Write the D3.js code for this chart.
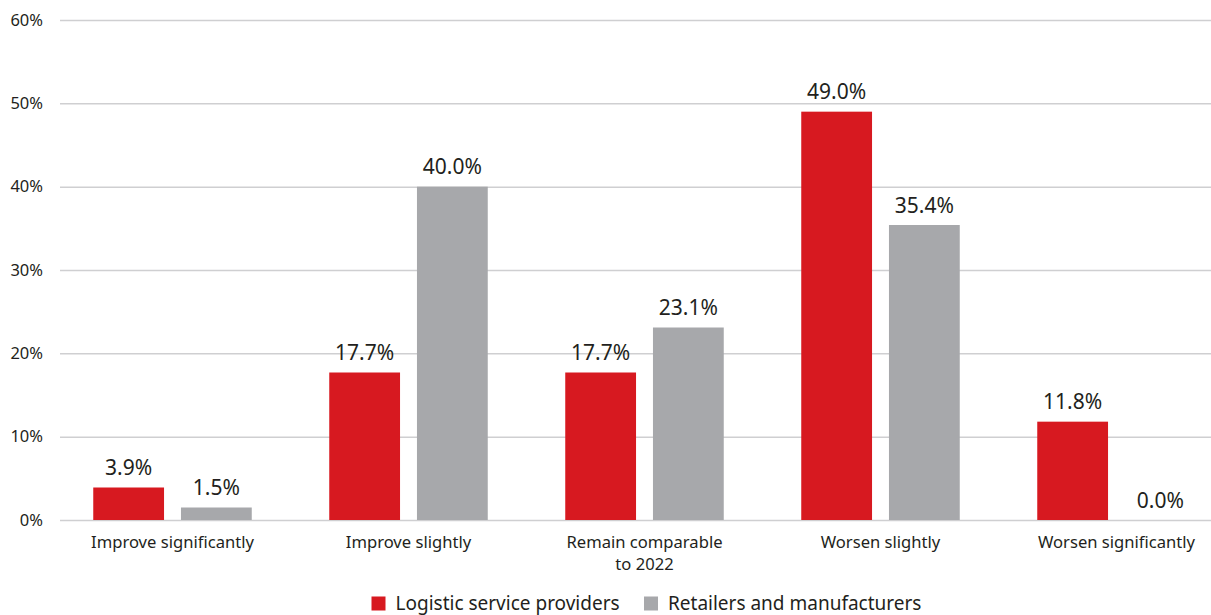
<!DOCTYPE html>
<html>
<head>
<meta charset="utf-8">
<script src="https://cdn.jsdelivr.net/npm/d3@7"></script>
<style>
  html, body { margin: 0; padding: 0; background: #fff; }
  svg { display: block; font-family: "Noto Sans", sans-serif; }
</style>
</head>
<body>
<svg id="chart" width="1211" height="615"></svg>
<script>
const categories = [
  ["Improve significantly"],
  ["Improve slightly"],
  ["Remain comparable", "to 2022"],
  ["Worsen slightly"],
  ["Worsen significantly"]
];
const seriesNames = ["Logistic service providers", "Retailers and manufacturers"];
const logisticValues = [3.9, 17.7, 17.7, 49.0, 11.8];
const retailValues = [1.5, 40.0, 23.1, 35.4, 0.0];
const yTicks = [0, 10, 20, 30, 40, 50, 60];
const colors = ["#d71920", "#a7a8ab"];

const svg = d3.select("#chart");
const catKeys = categories.map(c => c.join(" "));

const x0 = d3.scaleBand().domain(catKeys).range([54.5, 1234.5]).paddingInner(0).paddingOuter(0);
const x1 = d3.scaleBand().domain(seriesNames).range([38.75, 197.25]).paddingInner(0.193).paddingOuter(0);
const y = d3.scaleLinear().domain([0, 60]).range([520, 20]);

// gridlines
const yAxis = d3.axisLeft(y).tickValues(yTicks).tickFormat(d => d + "%").tickSize(-(1211 - 60)).tickPadding(17);
const gAxis = svg.append("g").attr("transform", "translate(60,0)").call(yAxis);
gAxis.select(".domain").remove();
gAxis.selectAll(".tick line").attr("stroke", "#cfcfd1").attr("stroke-width", 1.5);
gAxis.selectAll(".tick text").attr("fill", "#231f20").style("font-size", "16.5px").style("font-family", "'Noto Sans', sans-serif");

const data = catKeys.map((k, i) => ({ key: k, lines: categories[i], vals: [logisticValues[i], retailValues[i]] }));

const groups = svg.append("g").selectAll("g").data(data).join("g")
  .attr("transform", d => `translate(${x0(d.key)},0)`);

groups.selectAll("rect").data(d => d.vals.map((v, j) => ({ v, s: seriesNames[j], j })))
  .join("rect")
  .attr("x", d => x1(d.s))
  .attr("width", x1.bandwidth())
  .attr("y", d => y(d.v))
  .attr("height", d => y(0) - y(d.v))
  .attr("fill", d => colors[d.j]);

groups.selectAll("text.val").data(d => d.vals.map((v, j) => ({ v, s: seriesNames[j], j })))
  .join("text")
  .attr("class", "val")
  .attr("x", d => x1(d.s) + x1.bandwidth() / 2)
  .attr("y", d => y(d.v) - 12.5)
  .attr("text-anchor", "middle")
  .attr("fill", "#231f20")
  .style("font-size", "21px")
  .text(d => d.v.toFixed(1) + "%");

// category labels
groups.append("text")
  .attr("text-anchor", "middle")
  .attr("fill", "#231f20")
  .style("font-size", "16.6px")
  .attr("x", 118)
  .attr("y", 548)
  .selectAll("tspan").data(d => d.lines).join("tspan")
  .attr("x", 118)
  .attr("dy", (d, i) => i === 0 ? 0 : 21.5)
  .text(d => d);

// legend
const legend = svg.append("g");
const legendX = [371.5, 644];
seriesNames.forEach((name, i) => {
  legend.append("rect").attr("x", legendX[i]).attr("y", 596.5).attr("width", 14).attr("height", 14).attr("fill", colors[i]);
  legend.append("text").attr("x", legendX[i] + 24).attr("y", 610).attr("fill", "#231f20")
    .style("font-size", "19px").text(name);
});
</script>
</body>
</html>
